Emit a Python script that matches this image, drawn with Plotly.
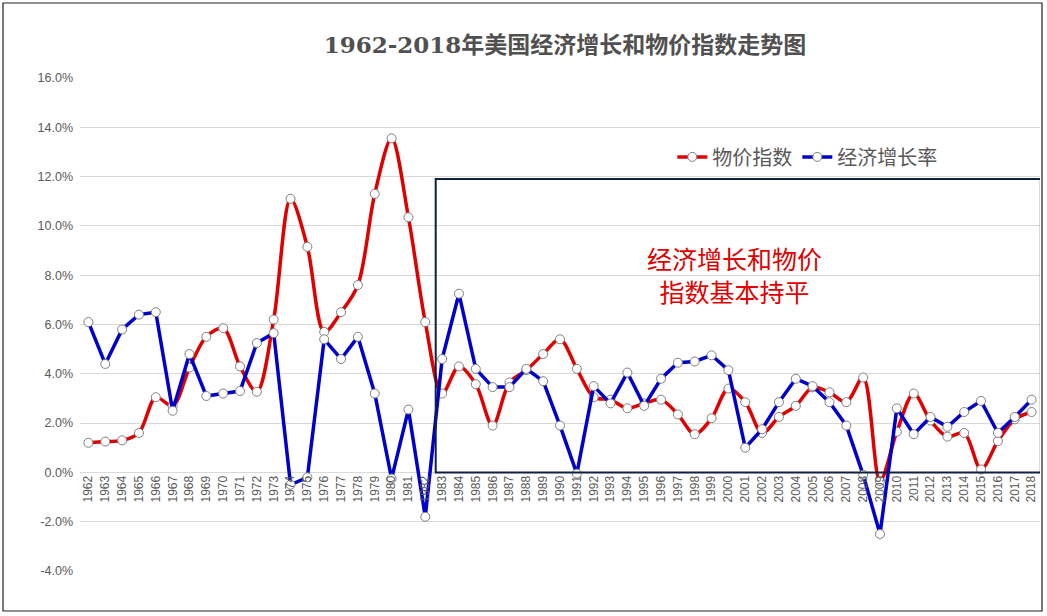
import plotly.graph_objects as go

years = [str(y) for y in range(1962, 2019)]

# 物价指数 (CPI, %)
cpi = [1.2, 1.25, 1.3, 1.6, 3.05, 2.7, 4.25, 5.5, 5.85, 4.3,
       3.27, 6.2, 11.1, 9.15, 5.7, 6.5, 7.6, 11.3, 13.55, 10.35,
       6.1, 3.2, 4.3, 3.58, 1.9, 3.65, 4.15, 4.8, 5.4, 4.2,
       3.05, 2.95, 2.6, 2.8, 2.95, 2.35, 1.55, 2.2, 3.4, 2.85,
       1.6, 2.25, 2.7, 3.45, 3.25, 2.85, 3.85, -0.35, 1.65, 3.2,
       2.1, 1.45, 1.6, 0.12, 1.27, 2.15, 2.45]

# 经济增长率 (GDP growth, %)
gdp = [6.1, 4.4, 5.8, 6.4, 6.5, 2.5, 4.8, 3.1, 3.2, 3.3,
       5.25, 5.65, -0.5, -0.2, 5.4, 4.6, 5.5, 3.2, -0.25, 2.55,
       -1.8, 4.6, 7.25, 4.2, 3.46, 3.46, 4.2, 3.7, 1.9, -0.05,
       3.5, 2.8, 4.05, 2.7, 3.8, 4.45, 4.5, 4.75, 4.15, 1.0,
       1.75, 2.85, 3.8, 3.5, 2.85, 1.9, -0.1, -2.5, 2.6, 1.55,
       2.25, 1.85, 2.45, 2.9, 1.6, 2.25, 2.95]

y_ticks = [-4, -2, 0, 2, 4, 6, 8, 10, 12, 14, 16]
y_labels = [f"{v:.1f}%" for v in y_ticks]

GRID = "#d9d9d9"
TXT = "#595959"
FONT = "Liberation Sans, Arial, Noto Sans CJK SC, sans-serif"

marker = dict(size=9, color="white", line=dict(color="#7f7f7f", width=1))

fig = go.Figure()
fig.add_trace(go.Scatter(
    x=years, y=cpi, name="物价指数", mode="lines+markers",
    line=dict(color="#e00000", width=3.5, shape="spline", smoothing=0.9),
    marker=marker,
))
fig.add_trace(go.Scatter(
    x=years, y=gdp, name="经济增长率", mode="lines+markers",
    line=dict(color="#0000cc", width=3.5),
    marker=marker,
))

# highlight box: 1983 onwards
fig.add_shape(type="rect", xref="x", yref="y", x0=20.62, x1=56.55, y0=0, y1=11.9,
              line=dict(color="#10213f", width=2), fillcolor="rgba(0,0,0,0)", layer="above")
# outer frame
fig.add_shape(type="rect", xref="paper", yref="paper",
              x0=-77 / 960, x1=962 / 960, y0=-40 / 493, y1=1 + 75 / 493,
              line=dict(color="#202020", width=1.2), fillcolor="rgba(0,0,0,0)")

fig.add_annotation(
    x=0.682, y=0.602, xref="paper", yref="paper", xanchor="center", yanchor="middle",
    text="经济增长和物价<br>指数基本持平", showarrow=False,
    font=dict(family="Noto Sans CJK SC", size=25, color="#e00000"),
)

fig.update_layout(
    width=1047, height=616,
    margin=dict(l=80, r=7, t=78, b=45),
    plot_bgcolor="white", paper_bgcolor="white",
    font=dict(family=FONT, color=TXT),
    title=dict(
        text="<b>1962-2018年美国经济增长和物价指数走势图</b>",
        xref="container", x=565 / 1047, xanchor="center", y=1 - 45 / 616, yanchor="middle",
        font=dict(family="DejaVu Serif, Noto Sans CJK SC", size=23, color="#505050"),
    ),
    legend=dict(
        orientation="h", x=0.617, y=0.84, xanchor="left", yanchor="middle",
        font=dict(family="Noto Sans CJK SC", size=20, color=TXT),
        bgcolor="rgba(0,0,0,0)", itemwidth=30,
    ),
    showlegend=True,
)

fig.update_xaxes(
    type="category", range=[-0.5, 56.5],
    anchor="free", position=0.2,
    tickangle=-90, tickfont=dict(size=12, color=TXT),
    showgrid=False, showline=False, ticks="",
)
fig.update_yaxes(
    range=[-4, 16], tickvals=y_ticks, ticktext=y_labels,
    tickfont=dict(size=12.5, color=TXT), ticklabelstandoff=6,
    gridcolor=GRID, gridwidth=1, zeroline=False, showline=False, ticks="",
)

fig.write_html("out.html", config={"displayModeBar": False},
               post_script="document.body.style.margin='0';")
